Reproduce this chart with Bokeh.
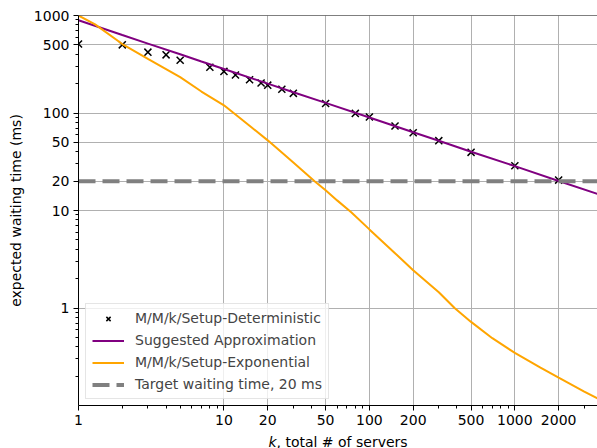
from bokeh.plotting import figure
from bokeh.layouts import column
from bokeh.models import (FixedTicker, CustomJSTickFormatter, Legend, LegendItem,
                          Span, Range1d, ColumnDataSource)
from bokeh.core.properties import value
from bokeh.embed import file_html
from bokeh.resources import INLINE

# ---- data ----
det_k = [1, 2, 3, 4, 5, 8, 10, 12, 15, 18, 20, 25, 30, 50, 80, 100, 150, 200, 300, 500, 1000, 2000]
det_w = [510, 500, 421, 395, 348, 295, 267, 245, 219, 203, 193, 175, 159, 125, 99, 91, 73.5, 62.8, 52, 39.5, 28.8, 20.5]

approx_k = [1, 2, 3, 5, 7, 10, 20, 30, 50, 100, 200, 300, 500, 1000, 2000, 3700]
approx_w = [895, 630, 515, 400, 338, 283, 200, 163, 127, 90, 63.5, 52, 40, 28.5, 20.1, 14.8]

exp_k = [1, 1.3, 2, 3, 5, 7, 10, 15, 20, 30, 42, 50, 60, 75, 100, 150, 200, 300, 385, 500, 700, 1000, 1500, 2000, 3000, 3700]
exp_w = [1000, 810, 510, 360, 233, 166, 120, 74, 52.4, 31, 20, 16.1, 12.7, 9.6, 6.4, 3.65, 2.44, 1.45, 1.0, 0.72, 0.49, 0.346, 0.245, 0.193, 0.139, 0.118]

target_k = [1, 3700]
target_w = [20, 20]

x_ticks = [1, 10, 20, 50, 100, 200, 500, 1000, 2000]
y_ticks = [1, 10, 20, 50, 100, 500, 1000]

FONT = "DejaVu Sans"
FS = "14px"

x_minor = [m * d for d in (1, 10, 100, 1000) for m in range(2, 10) if m * d not in x_ticks and m * d <= 3700]
y_minor = [m * d for d in (0.1, 1, 10, 100) for m in range(2, 10) if round(m * d, 6) not in y_ticks]

p = figure(width=597, height=430, x_axis_type="log", y_axis_type="log",
           x_range=Range1d(1, 3700), y_range=Range1d(0.1, 1000),
           output_backend="svg", toolbar_location=None,
           min_border_left=78, min_border_right=0, min_border_top=15, min_border_bottom=25)
p.outline_line_color = None
p.background_fill_color = "white"
p.border_fill_color = "white"

xt = FixedTicker(ticks=x_ticks, minor_ticks=x_minor)
yt = FixedTicker(ticks=y_ticks, minor_ticks=y_minor)
fmt = CustomJSTickFormatter(code="return String(Math.round(tick));")
for ax, t in ((p.xaxis[0], xt), (p.yaxis[0], yt)):
    ax.ticker = t
    ax.formatter = fmt
    ax.major_label_text_font = FONT
    ax.major_label_text_font_size = FS
    ax.major_label_text_color = "black"
    ax.axis_line_color = "black"
    ax.axis_line_width = 1
    ax.major_tick_line_color = "black"
    ax.minor_tick_line_color = "black"
    ax.major_tick_out = 5
    ax.major_tick_in = 0
    ax.minor_tick_out = 3
    ax.minor_tick_in = 0
    ax.major_label_standoff = 4

p.yaxis.axis_label = "expected waiting time (ms)"
p.yaxis.axis_label_text_font = FONT
p.yaxis.axis_label_text_font_size = FS
p.yaxis.axis_label_text_font_style = "normal"
p.yaxis.axis_label_text_color = "black"
p.yaxis.axis_label_standoff = 7

p.xgrid.ticker = xt
p.ygrid.ticker = yt
p.xgrid.grid_line_color = "#b0b0b0"
p.ygrid.grid_line_color = "#b0b0b0"
p.xgrid.grid_line_width = 1
p.ygrid.grid_line_width = 1

det_src = ColumnDataSource(dict(k=det_k, w=det_w))
r_det = p.scatter("k", "w", source=det_src, marker="x", size=10, line_color="black", line_width=1.5)
r_app = p.line(approx_k, approx_w, line_color="purple", line_width=2)
r_exp = p.line(exp_k, exp_w, line_color="orange", line_width=2)
r_tgt = p.line(target_k, target_w, line_color="gray", line_width=4, line_dash="17 7")

p.add_layout(Span(location=1000, dimension="width", line_color="black", line_width=1.2))

legend = Legend(items=[
    LegendItem(label="M/M/k/Setup-Deterministic", renderers=[r_det]),
    LegendItem(label="Suggested Approximation", renderers=[r_app]),
    LegendItem(label="M/M/k/Setup-Exponential", renderers=[r_exp]),
    LegendItem(label="Target waiting time, 20 ms", renderers=[r_tgt]),
], location=(7, 6), label_text_font=FONT, label_text_font_size=FS,
    border_line_color="#cccccc", border_line_width=1, background_fill_alpha=0.8,
    padding=6, spacing=6, glyph_width=32, glyph_height=15, label_height=15,
    label_standoff=11, margin=0)
p.add_layout(legend)

# x-axis title strip (italic "k" followed by regular text); its frame lines up with the plot frame
q = figure(width=597, height=18, x_range=Range1d(78, 597), y_range=Range1d(0, 18),
           output_backend="svg", toolbar_location=None,
           x_axis_location=None, y_axis_location=None,
           min_border_left=78, min_border_right=0, min_border_top=0, min_border_bottom=0)
q.outline_line_color = None
q.grid.visible = False
q.background_fill_color = "white"
q.border_fill_color = "white"
q.text(x=[268], y=[18], text=["k"], text_font=value(FONT), text_font_size="14px",
       text_font_style="italic", text_baseline="top", y_offset=3, text_color="black")
q.text(x=[276], y=[18], text=[", total # of servers"], text_font=value(FONT), text_font_size="14px",
       text_baseline="top", y_offset=3, text_color="black")

layout = column(p, q, spacing=0)
open("out.html", "w").write(file_html(layout, INLINE))
